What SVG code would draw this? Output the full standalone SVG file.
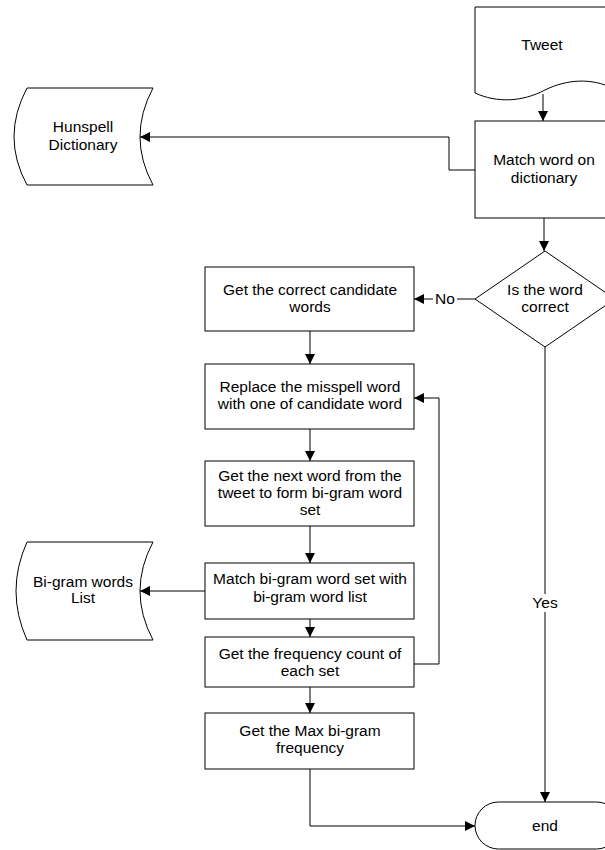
<svg xmlns="http://www.w3.org/2000/svg" width="605" height="850" viewBox="0 0 605 850">
<style>
.s{fill:#fff;stroke:#000;stroke-width:1}
.t{font-family:"Liberation Sans",Arial,sans-serif;font-size:15.5px;fill:#000;text-anchor:middle}
.c{fill:none;stroke:#000;stroke-width:1}
</style>
<defs>
<marker id="a" viewBox="0 0 10 10" refX="10" refY="5" markerWidth="10" markerHeight="10" markerUnits="userSpaceOnUse" orient="auto">
<path d="M0,0 L10,5 L0,10 Z" fill="#000"/>
</marker>
</defs>
<rect width="605" height="850" fill="#fff"/>
<g id="connectors">
<line class="c" x1="543" y1="94" x2="543" y2="121" marker-end="url(#a)"/>
<polyline class="c" points="475,170 449,170 449,137 140,137" marker-end="url(#a)"/>
<line class="c" x1="544" y1="218" x2="544" y2="251" marker-end="url(#a)"/>
<line class="c" x1="475" y1="299" x2="414" y2="299" marker-end="url(#a)"/>
<line class="c" x1="310" y1="331" x2="310" y2="364" marker-end="url(#a)"/>
<line class="c" x1="310" y1="429" x2="310" y2="461" marker-end="url(#a)"/>
<line class="c" x1="310" y1="526" x2="310" y2="563" marker-end="url(#a)"/>
<line class="c" x1="205" y1="591" x2="140" y2="591" marker-end="url(#a)"/>
<line class="c" x1="310" y1="619" x2="310" y2="637" marker-end="url(#a)"/>
<polyline class="c" points="414,664 439,664 439,398 414,398" marker-end="url(#a)"/>
<line class="c" x1="310" y1="687" x2="310" y2="713" marker-end="url(#a)"/>
<polyline class="c" points="310,769 310,826 475,826" marker-end="url(#a)"/>
<line class="c" x1="545" y1="347" x2="545" y2="802" marker-end="url(#a)"/>
<rect x="531" y="594" width="28" height="18" fill="#fff"/>
<text class="t" x="545" y="608">Yes</text>
<rect x="433" y="291" width="24" height="16" fill="#fff"/>
<text class="t" x="445" y="304">No</text>
</g>
<g id="tweet">
<path class="s" d="M475,7 H612 V88 C592,78 567,79 545,90 C522,102 497,103 475,93 Z"/>
<text class="t" x="542" y="50">Tweet</text>
</g>
<g id="match-dict">
<rect class="s" x="475" y="121" width="137" height="97"/>
<text class="t" x="544" y="165">Match word on</text>
<text class="t" x="544" y="183">dictionary</text>
</g>
<g id="hunspell">
<path class="s" d="M27,88 L153,88 Q127,137 153,185 L27,185 Q1,137 27,88 Z"/>
<text class="t" x="83" y="132">Hunspell</text>
<text class="t" x="83" y="150">Dictionary</text>
</g>
<g id="decision">
<path class="s" d="M545,251 L615,299 L545,347 L475,299 Z"/>
<text class="t" x="545" y="295">Is the word</text>
<text class="t" x="545" y="312">correct</text>
</g>
<g id="candidates">
<rect class="s" x="205" y="267" width="209" height="64"/>
<text class="t" x="310" y="295">Get the correct candidate</text>
<text class="t" x="310" y="312">words</text>
</g>
<g id="replace">
<rect class="s" x="205" y="364" width="209" height="65"/>
<text class="t" x="310" y="392">Replace the misspell word</text>
<text class="t" x="310" y="409">with one of candidate word</text>
</g>
<g id="next-word">
<rect class="s" x="205" y="461" width="209" height="65"/>
<text class="t" x="310" y="481">Get the next word from the</text>
<text class="t" x="310" y="498">tweet to form bi-gram word</text>
<text class="t" x="310" y="515">set</text>
</g>
<g id="bigram-list">
<path class="s" d="M27,542 L153,542 Q127,591 153,640 L27,640 Q5,591 27,542 Z"/>
<text class="t" x="83" y="587">Bi-gram words</text>
<text class="t" x="83" y="603">List</text>
</g>
<g id="match-bigram">
<rect class="s" x="205" y="563" width="209" height="56"/>
<text class="t" x="310" y="584">Match bi-gram word set with</text>
<text class="t" x="310" y="602">bi-gram word list</text>
</g>
<g id="frequency">
<rect class="s" x="205" y="637" width="209" height="50"/>
<text class="t" x="310" y="659">Get the frequency count of</text>
<text class="t" x="310" y="676">each set</text>
</g>
<g id="max">
<rect class="s" x="205" y="713" width="209" height="56"/>
<text class="t" x="310" y="736">Get the Max bi-gram</text>
<text class="t" x="310" y="753">frequency</text>
</g>
<g id="end">
<rect class="s" x="475" y="802" width="145" height="47" rx="23.5" ry="23.5"/>
<text class="t" x="545" y="831">end</text>
</g>
</svg>
